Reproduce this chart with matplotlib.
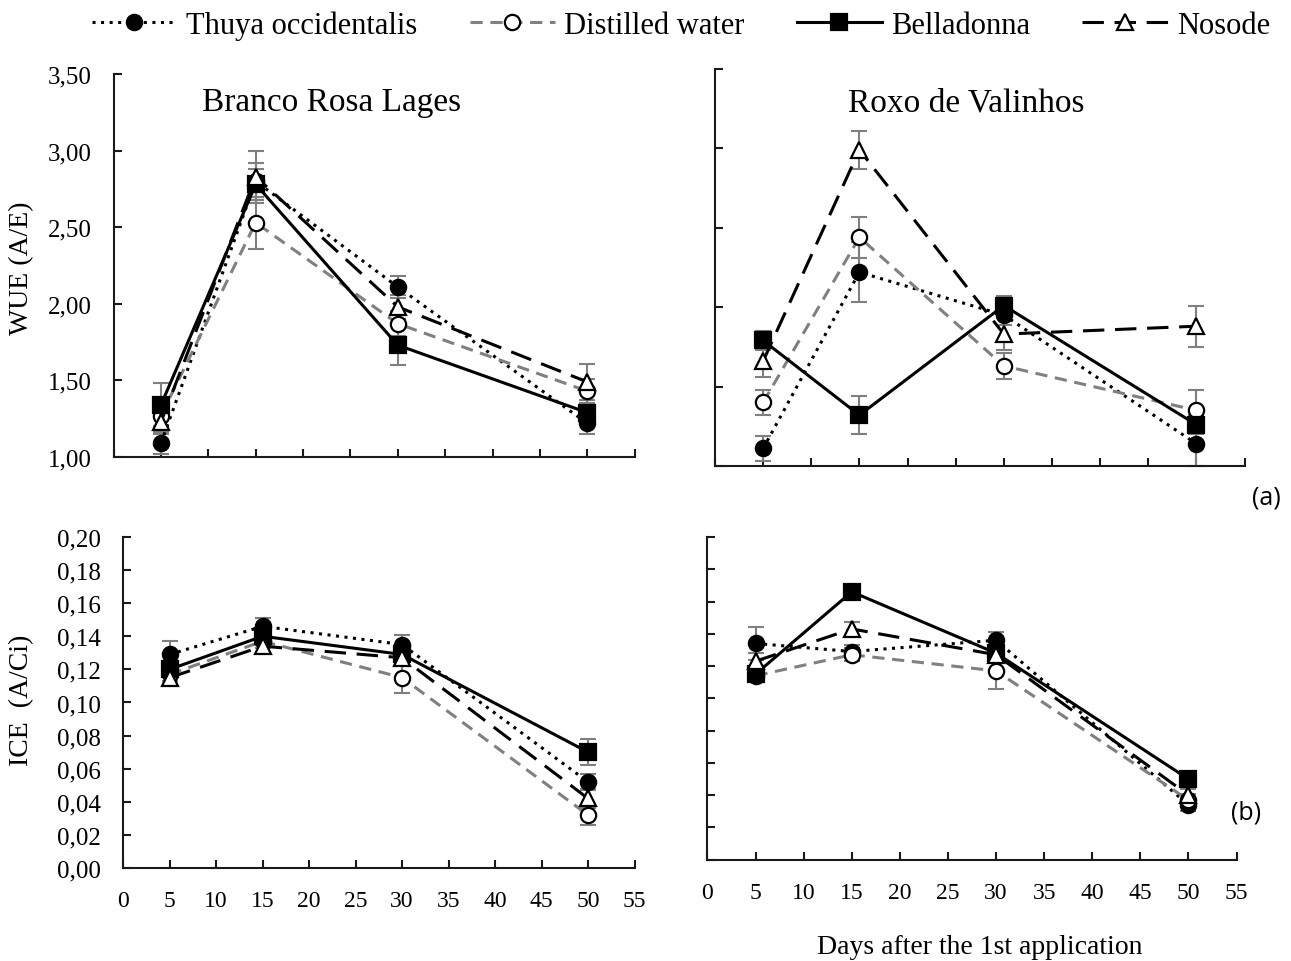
import matplotlib
matplotlib.use("Agg")
import matplotlib.pyplot as plt
from matplotlib.lines import Line2D
from matplotlib.ticker import FuncFormatter, MultipleLocator

plt.rcParams['font.family'] = ['Liberation Serif', 'DejaVu Serif']

days = [5, 15, 30, 50]
names = ["Thuya occidentalis", "Distilled water", "Belladonna", "Nosode"]

# rows: Thuya, Distilled water, Belladonna, Nosode
wue_brl = [[1.09, 2.80, 2.11, 1.22],
           [1.27, 2.53, 1.87, 1.43],
           [1.34, 2.78, 1.73, 1.29],
           [1.23, 2.83, 1.98, 1.49]]
wue_brl_err = [[0.07, 0.12, 0.07, 0.07],
               [0.08, 0.17, 0.08, 0.08],
               [0.14, 0.10, 0.13, 0.08],
               [0.08, 0.17, 0.08, 0.12]]

wue_rv = [[1.11, 2.22, 1.95, 1.14],
          [1.40, 2.44, 1.63, 1.35],
          [1.79, 1.32, 2.01, 1.26],
          [1.66, 2.99, 1.83, 1.88]]
wue_rv_err = [[0.08, 0.19, 0.06, 0.14],
              [0.08, 0.13, 0.08, 0.13],
              [0.06, 0.12, 0.06, 0.06],
              [0.10, 0.12, 0.10, 0.13]]

ice_brl = [[0.129, 0.146, 0.135, 0.052],
           [0.117, 0.137, 0.115, 0.032],
           [0.120, 0.140, 0.129, 0.070],
           [0.115, 0.134, 0.127, 0.042]]
ice_brl_err = [[0.008, 0.005, 0.006, 0.005],
               [0.004, 0.004, 0.009, 0.006],
               [0.004, 0.005, 0.004, 0.008],
               [0.004, 0.004, 0.004, 0.006]]

ice_rv = [[0.134, 0.129, 0.136, 0.034],
          [0.114, 0.127, 0.117, 0.037],
          [0.115, 0.166, 0.128, 0.050],
          [0.123, 0.143, 0.127, 0.040]]
ice_rv_err = [[0.010, 0.004, 0.005, 0.004],
              [0.004, 0.004, 0.011, 0.004],
              [0.004, 0.003, 0.004, 0.003],
              [0.005, 0.004, 0.004, 0.004]]

styles = [
    dict(color='black', ls=(0, (1, 1.8)), marker='o', mfc='black', mec='black'),
    dict(color='#808080', ls=(0, (4, 2.5)), marker='o', mfc='white', mec='black'),
    dict(color='black', ls='-', marker='s', mfc='black', mec='black'),
    dict(color='black', ls=(0, (7, 3.5)), marker='^', mfc='white', mec='black'),
]

fig = plt.figure(figsize=(12.91, 9.62), dpi=100)

comma = FuncFormatter(lambda v, p: f"{v:.2f}".replace('.', ','))


def panel(rect, vals, errs, ylim, ystep, ylabels, xlabels):
    ax = fig.add_axes(rect)
    for i in range(4):
        st = styles[i]
        ax.errorbar(days, vals[i], yerr=errs[i], fmt='none', ecolor='#7f7f7f',
                    elinewidth=1.5, capsize=5.5, capthick=1.5, zorder=2 + i * 0.1,
                    clip_on=False)
        ax.plot(days, vals[i], color=st['color'], ls=st['ls'], lw=2.2,
                marker=st['marker'], ms=11, mfc=st['mfc'], mec=st['mec'], mew=1.6,
                zorder=3 + i * 0.1, clip_on=False)
    ax.set_xlim(0, 55)
    ax.set_ylim(*ylim)
    ax.xaxis.set_major_locator(MultipleLocator(5))
    ax.yaxis.set_major_locator(MultipleLocator(ystep))
    ax.yaxis.set_major_formatter(comma)
    for s in ['top', 'right']:
        ax.spines[s].set_visible(False)
    for s in ['left', 'bottom']:
        ax.spines[s].set_linewidth(1.5)
        ax.spines[s].set_color('#1a1a1a')
    ax.tick_params(axis='both', direction='in', length=6, width=1.5, color='#1a1a1a')
    ax.tick_params(axis='y', labelsize=18, pad=16, labelleft=ylabels)
    ax.tick_params(axis='x', labelsize=17, pad=16, labelbottom=xlabels)
    return ax


ax1 = panel([0.0880, 0.5239, 0.4036, 0.3981], wue_brl, wue_brl_err, (1.0, 3.5), 0.5, True, False)
ax2 = panel([0.5538, 0.5146, 0.4102, 0.4127], wue_rv, wue_rv_err, (1.0, 3.5), 0.5, False, False)
ax3 = panel([0.0954, 0.0967, 0.3961, 0.3441], ice_brl, ice_brl_err, (0.0, 0.2), 0.02, True, True)
ax4 = panel([0.5480, 0.1053, 0.4098, 0.3355], ice_rv, ice_rv_err, (0.0, 0.2), 0.02, False, True)

ax1.text(0.419, 0.927, "Branco Rosa Lages", transform=ax1.transAxes,
         ha='center', va='center', fontsize=24)
ax2.text(0.474, 0.917, "Roxo de Valinhos", transform=ax2.transAxes,
         ha='center', va='center', fontsize=24)

fig.text(22 / 1291, 1 - 268 / 962, "WUE (A/E)", rotation=90, ha='center', va='center', fontsize=20)
fig.text(22 / 1291, 1 - 700 / 962, "ICE  (A/Ci)", rotation=90, ha='center', va='center', fontsize=20)
fig.text(980 / 1291, 1 - 948 / 962, "Days after the 1st application", ha='center', va='center', fontsize=20)
fig.text(1266 / 1291, 1 - 498 / 962, "(a)", ha='center', va='center', fontsize=18, family='Open Sans')
fig.text(1246 / 1291, 1 - 813 / 962, "(b)", ha='center', va='center', fontsize=18, family='Open Sans')

handles = []
for st in styles:
    handles.append(Line2D([], [], color=st['color'], ls=st['ls'], lw=2.2, marker=st['marker'],
                          ms=11, mfc=st['mfc'], mec=st['mec'], mew=1.6))
fig.legend(handles, names, loc='center', bbox_to_anchor=(681 / 1291, 1 - 26 / 962), ncol=4,
           frameon=False, fontsize=22, handlelength=2.8, handletextpad=0.3, columnspacing=1.7)

fig.savefig("out.png", dpi=100)
